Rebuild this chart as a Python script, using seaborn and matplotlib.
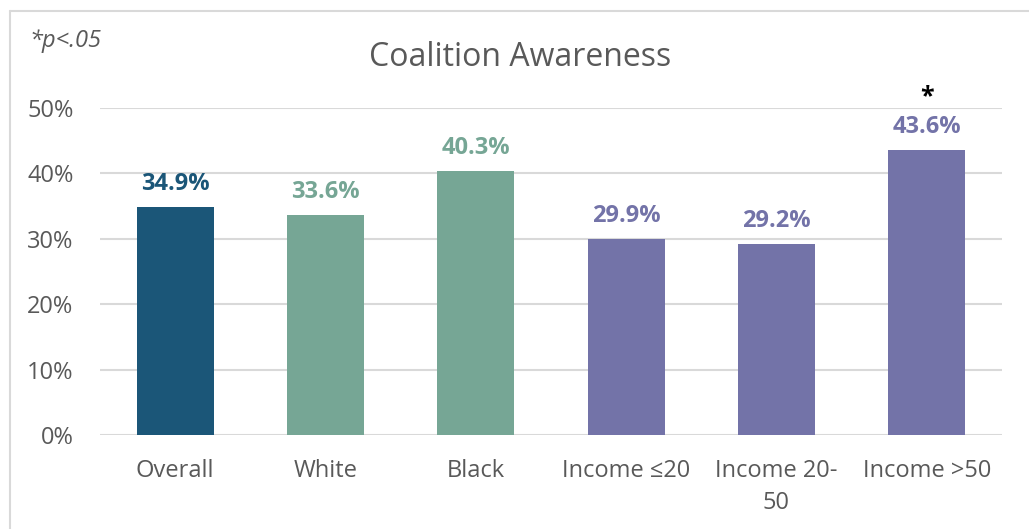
import matplotlib
matplotlib.use("Agg")
import matplotlib.pyplot as plt
import seaborn as sns
import pandas as pd
from matplotlib.lines import Line2D

categories = ["Overall", "White", "Black", "Income \u226420", "Income 20-\n50", "Income >50"]
values = [34.9, 33.6, 40.3, 29.9, 29.2, 43.6]
colors = ["#1B5678", "#76A695", "#76A695", "#7373A8", "#7373A8", "#7373A8"]
significant = [False, False, False, False, False, True]
y_ticks = [0, 10, 20, 30, 40, 50]

sns.set_theme(style="white")
plt.rcParams["font.family"] = ["Open Sans", "DejaVu Sans"]

df = pd.DataFrame({"group": categories, "pct": values})

fig = plt.figure(figsize=(10.29, 5.29), dpi=100)
ax = fig.add_axes([100 / 1029, 1 - 435 / 529, 902 / 1029, 327 / 529])

sns.barplot(data=df, x="group", y="pct", hue="group",
            palette=dict(zip(categories, colors)), width=0.51,
            legend=False, ax=ax, zorder=3, saturation=1, linewidth=0)

ax.set_ylim(0, 50)
ax.set_xlim(-0.5, len(categories) - 0.5)
ax.set_yticks(y_ticks)
ax.set_yticklabels([f"{t}%" for t in y_ticks])
ax.set_xlabel("")
ax.set_ylabel("")
ax.yaxis.grid(True, color="#D9D9D9", linewidth=1.5, zorder=0)
ax.set_axisbelow(True)
for s in ax.spines.values():
    s.set_visible(False)
ax.tick_params(axis="y", length=0, pad=19, labelsize=17, labelcolor="#595959")
ax.tick_params(axis="x", length=0, pad=17, labelsize=17, labelcolor="#595959")
for lbl in ax.get_xticklabels():
    lbl.set_linespacing(1.45)

for i, (v, c, sig) in enumerate(zip(values, colors, significant)):
    ax.annotate(f"{v}%", (i, v), xytext=(0, 8), textcoords="offset points",
                ha="center", va="bottom", fontsize=17, fontweight="bold",
                color=c, annotation_clip=False)
    if sig:
        ax.annotate("*", (i, v), xytext=(0, 29), textcoords="offset points",
                    ha="center", va="bottom", fontsize=18, fontweight="bold",
                    color="black", annotation_clip=False)

fig.text(0.505, 1 - 58 / 529, "Coalition Awareness", ha="center", va="center",
         fontsize=23, color="#595959")
fig.text(30 / 1029, 1 - 41 / 529, "*p<.05", ha="left", va="center",
         fontsize=17, style="italic", color="#595959")

# outer chart frame
fig.add_artist(Line2D([10 / 1029, 10 / 1029], [0, 1 - 11 / 529],
                      transform=fig.transFigure, color="#D9D9D9", linewidth=1.5))
fig.add_artist(Line2D([10 / 1029, 1], [1 - 11 / 529, 1 - 11 / 529],
                      transform=fig.transFigure, color="#D9D9D9", linewidth=1.5))

fig.savefig("out.png", dpi=100)
